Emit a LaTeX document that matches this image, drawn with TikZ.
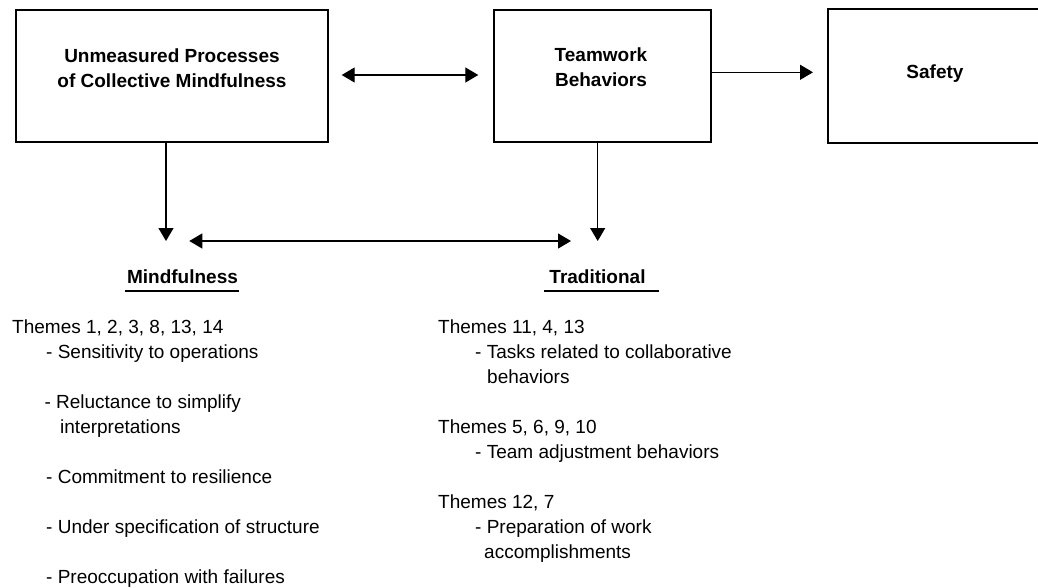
\documentclass[tikz,border=0pt]{standalone}
\usepackage{fontspec}
\setmainfont{Liberation Sans}
\usetikzlibrary{arrows.meta}

\tikzset{
  box/.style={draw, line width=2pt, inner sep=0pt},
  boxtext/.style={anchor=base, inner sep=0pt, font=\fontsize{19}{25}\selectfont\bfseries},
  headtext/.style={anchor=base, inner sep=0pt, font=\fontsize{19}{25}\selectfont\bfseries},
  body/.style={anchor=base west, inner sep=0pt, font=\fontsize{19}{25}\selectfont},
  link/.style={line width=1.3pt, -{Triangle[length=13pt,width=15pt]}},
  duallink/.style={line width=1.3pt, {Triangle[length=13pt,width=15pt]}-{Triangle[length=13pt,width=15pt]}},
  rule/.style={line width=1.2pt}
}

\begin{document}
\begin{tikzpicture}[x=1pt, y=-1pt]
\useasboundingbox (0,0) rectangle (1038,588);
\clip (0,0) rectangle (1038,588);

% upper row of boxes
\node[box, minimum width=312pt, minimum height=132.5pt] (ump) at (172,76) {};
\node[box, minimum width=217pt, minimum height=132.5pt] (tb) at (602.5,76) {};
\node[box, minimum width=260pt, minimum height=134pt] (safe) at (958,76) {};

\node[boxtext] (umpa) at (172,62.3) {Unmeasured Processes};
\node[boxtext] (umpb) at (172,87.3) {of Collective Mindfulness};
\node[boxtext] (tba) at (601,61.7) {Teamwork};
\node[boxtext] (tbb) at (601,86.7) {Behaviors};
\node[boxtext] (safet) at (935,78.3) {Safety};

% column headings
\node[headtext] (mind) at (182.5,283.3) {Mindfulness};
\node[headtext] (trad) at (597.5,283.3) {Traditional};
\draw[rule] (125,291) -- (239,291);
\draw[rule] (544,291) -- (659,291);

% arrow end points above the headings
\coordinate (mtip) at (166,241);
\coordinate (ttip) at (597.7,241);
\coordinate (hl) at (189.3,241);
\coordinate (hr) at (571,241);

% connectors
\draw[duallink] ([xshift=12.7pt, yshift=1pt]ump.east) -- ([xshift=-14.7pt, yshift=1pt]tb.west);
\draw[link] ([yshift=3.7pt]tb.east) -- ([xshift=-14pt, yshift=3.7pt]safe.west);
\draw[link] (ump.south -| mtip) -- (mtip);
\draw[link] (tb.south -| ttip) -- (ttip);
\draw[duallink] (hl) -- (hr);

% mindfulness themes
\node[body] (m1) at (12,333) {Themes 1, 2, 3, 8, 13, 14};
\node[body] (m2) at (46,358.3) {- Sensitivity to operations};
\node[body] (m3) at (44.3,408.3) {- Reluctance to simplify};
\node[body] (m4) at (60,433.3) {interpretations};
\node[body] (m5) at (46,483.3) {- Commitment to resilience};
\node[body] (m6) at (46,533.3) {- Under specification of structure};
\node[body] (m7) at (46,583.3) {- Preoccupation with failures};

% traditional themes
\node[body] (t1) at (438,333) {Themes 11, 4, 13};
\node[body] (t2) at (475,358.3) {- Tasks related to collaborative};
\node[body] (t3) at (487,383.3) {behaviors};
\node[body] (t4) at (438,433.3) {Themes 5, 6, 9, 10};
\node[body] (t5) at (475,458.3) {- Team adjustment behaviors};
\node[body] (t6) at (438,508.3) {Themes 12, 7};
\node[body] (t7) at (475,533.3) {- Preparation of work};
\node[body] (t8) at (484,558) {accomplishments};
\end{tikzpicture}
\end{document}
